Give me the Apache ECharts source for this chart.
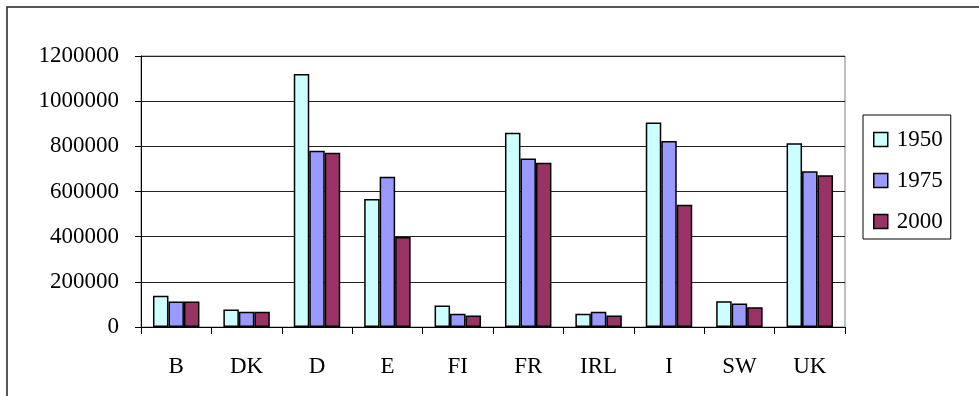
<!DOCTYPE html>
<html>
<head>
<meta charset="utf-8">
<script src="https://cdn.jsdelivr.net/npm/echarts@6/dist/echarts.min.js"></script>
<style>
html,body{margin:0;padding:0;background:#fff;}
#chart{width:979px;height:396px;}
</style>
</head>
<body>
<div id="chart"></div>
<script>
const categories = ['B', 'DK', 'D', 'E', 'FI', 'FR', 'IRL', 'I', 'SW', 'UK'];
const seriesNames = ['1950', '1975', '2000'];
const values1950 = [138000, 77000, 1120000, 567000, 95000, 860000, 59000, 905000, 114000, 814000];
const values1975 = [113000, 68000, 780000, 665000, 59000, 746000, 68000, 824000, 104000, 690000];
const values2000 = [113000, 68000, 772000, 398000, 51000, 727000, 51000, 541000, 87000, 672000];
const yTicks = [0, 200000, 400000, 600000, 800000, 1000000, 1200000];

const colors = ['#CCFFFF', '#9999FF', '#993366'];
const font = 'Liberation Serif, Times New Roman, serif';
const allValues = [values1950, values1975, values2000];

const chart = echarts.init(document.getElementById('chart'), null, {renderer: 'canvas'});
chart.setOption({
  animation: false,
  backgroundColor: '#fff',
  textStyle: {fontFamily: font},
  graphic: [{
    type: 'rect',
    shape: {x: 7, y: 7, width: 1100, height: 600},
    style: {fill: 'none', stroke: '#222', lineWidth: 1.5},
    silent: true
  }],
  grid: {
    left: 141, right: 134, top: 56, bottom: 69,
    show: true, borderColor: '#808080', borderWidth: 1, backgroundColor: 'transparent'
  },
  legend: {
    orient: 'vertical',
    left: 863, top: 115,
    data: seriesNames,
    itemWidth: 14, itemHeight: 14,
    itemGap: 18,
    padding: [13, 8, 6, 10],
    borderColor: '#000', borderWidth: 1,
    icon: 'rect',
    itemStyle: {borderColor: '#000', borderWidth: 1.5},
    textStyle: {fontFamily: font, fontSize: 23, color: '#000', padding: [0, 0, 0, 4]}
  },
  xAxis: {
    type: 'category',
    data: categories,
    boundaryGap: true,
    axisLine: {show: true, lineStyle: {color: '#000', width: 1}},
    axisTick: {show: true, inside: false, length: 7, alignWithLabel: false, lineStyle: {color: '#000'}},
    axisLabel: {fontFamily: font, fontSize: 23, color: '#000', margin: 28},
    splitLine: {show: false}
  },
  yAxis: {
    type: 'value',
    min: yTicks[0], max: yTicks[yTicks.length - 1], interval: 200000,
    axisLine: {show: true, lineStyle: {color: '#000', width: 1}},
    axisTick: {show: true, inside: false, length: 6, lineStyle: {color: '#000'}},
    axisLabel: {fontFamily: font, fontSize: 23, color: '#000', margin: 22, formatter: v => String(v)},
    splitLine: {show: true, lineStyle: {color: '#222', width: 1}}
  },
  series: seriesNames.map((name, i) => ({
    name: name,
    type: 'bar',
    data: allValues[i],
    barGap: '0%',
    barCategoryGap: '34%',
    itemStyle: {color: colors[i], borderColor: '#000', borderWidth: 1.5}
  }))
});
</script>
</body>
</html>
